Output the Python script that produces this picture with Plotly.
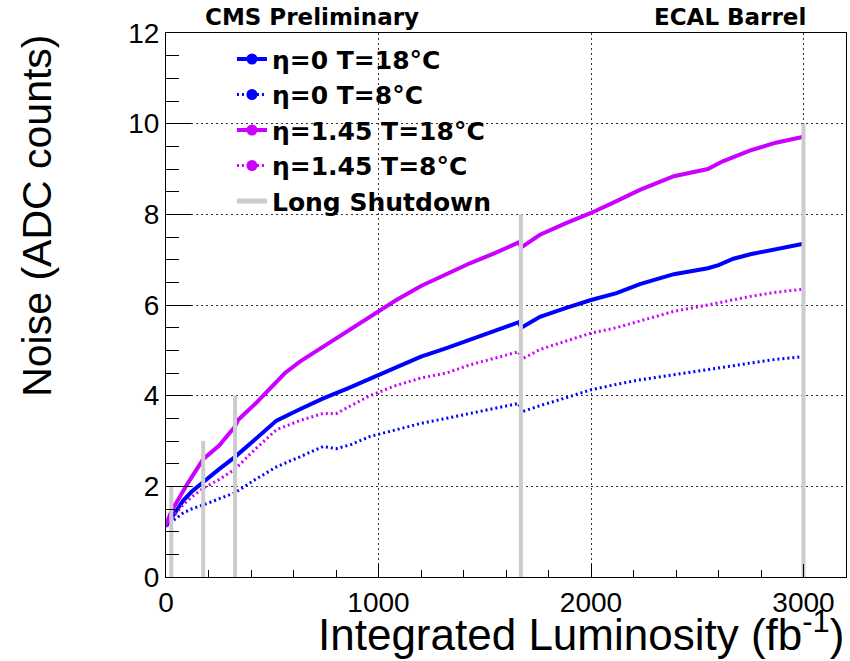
import plotly.graph_objects as go

# ---- data -------------------------------------------------------------
# eta = 0, T = 18 C
lumi_eta0_18 = [0, 25, 50, 80, 120, 175, 250, 325, 420, 520, 630, 740, 850, 960, 1080,
                1200, 1320, 1430, 1550, 1660, 1672, 1760, 1880, 2000, 2120, 2230, 2390,
                2550, 2600, 2670, 2750, 2870, 3000]
noise_eta0_18 = [1.12, 1.30, 1.47, 1.68, 1.88, 2.10, 2.38, 2.65, 3.05, 3.45, 3.70, 3.94,
                 4.15, 4.38, 4.62, 4.86, 5.05, 5.23, 5.42, 5.62, 5.50, 5.74, 5.93, 6.11,
                 6.26, 6.46, 6.68, 6.81, 6.88, 7.02, 7.12, 7.24, 7.35]

# eta = 0, T = 8 C
lumi_eta0_8 = [0, 25, 50, 80, 120, 175, 250, 325, 420, 520, 630, 740, 800, 870, 960, 1080,
               1200, 1320, 1430, 1550, 1660, 1672, 1760, 1880, 2000, 2120, 2230, 2390,
               2550, 2650, 2750, 2870, 3000]
noise_eta0_8 = [1.12, 1.20, 1.30, 1.41, 1.50, 1.59, 1.72, 1.86, 2.15, 2.43, 2.65, 2.88,
                2.83, 2.92, 3.10, 3.25, 3.39, 3.50, 3.61, 3.72, 3.83, 3.64, 3.78, 3.95,
                4.13, 4.25, 4.35, 4.46, 4.58, 4.65, 4.72, 4.80, 4.86]

# eta = 1.45, T = 18 C
lumi_eta145_18 = [0, 25, 50, 100, 175, 250, 325, 340, 420, 520, 560, 630, 740, 850, 960,
                  1080, 1200, 1320, 1430, 1550, 1660, 1672, 1760, 1880, 2000, 2120, 2230,
                  2390, 2550, 2620, 2750, 2870, 3000]
noise_eta145_18 = [1.15, 1.45, 1.65, 2.05, 2.60, 2.90, 3.32, 3.47, 3.82, 4.30, 4.50, 4.75,
                   5.08, 5.40, 5.75, 6.10, 6.42, 6.68, 6.92, 7.15, 7.38, 7.27, 7.55, 7.80,
                   8.03, 8.29, 8.54, 8.84, 9.00, 9.17, 9.41, 9.58, 9.71]

# eta = 1.45, T = 8 C
lumi_eta145_8 = [0, 25, 50, 80, 120, 175, 250, 325, 420, 520, 630, 740, 800, 870, 960, 1080,
                 1200, 1320, 1430, 1550, 1660, 1672, 1760, 1880, 2000, 2120, 2230, 2390,
                 2550, 2650, 2750, 2870, 3000]
noise_eta145_8 = [1.12, 1.28, 1.42, 1.59, 1.76, 1.96, 2.15, 2.38, 2.82, 3.25, 3.45, 3.61,
                  3.60, 3.78, 4.00, 4.22, 4.39, 4.50, 4.68, 4.83, 4.97, 4.80, 5.02, 5.20,
                  5.38, 5.50, 5.64, 5.86, 6.00, 6.10, 6.19, 6.28, 6.35]

# long shutdown markers: position and drawn height
shutdown_lumi = [25, 175, 325, 1670, 3000]
shutdown_top = [2, 3, 4, 8, 10]

series_labels = ["η=0 T=18°C", "η=0 T=8°C", "η=1.45 T=18°C", "η=1.45 T=8°C"]
shutdown_label = "Long Shutdown"

x_ticks = [0, 1000, 2000, 3000]
y_ticks = [0, 2, 4, 6, 8, 10, 12]

# ---- styling ----------------------------------------------------------
BLUE = "#0000ff"
MAGENTA = "#cc00ff"
GRAY = "#cccccc"
FONT = "Liberation Sans, Arial, sans-serif"
BOLD_FONT = "DejaVu Sans, Liberation Sans, sans-serif"
DOTS = "2px,3px"

series = [
    (lumi_eta0_18, noise_eta0_18, BLUE, "solid", 4),
    (lumi_eta0_8, noise_eta0_8, BLUE, DOTS, 3),
    (lumi_eta145_18, noise_eta145_18, MAGENTA, "solid", 4),
    (lumi_eta145_8, noise_eta145_8, MAGENTA, DOTS, 3),
]

fig = go.Figure()

for (xs, ys, color, dash, w) in series:
    fig.add_trace(go.Scatter(x=xs, y=ys, mode="lines", showlegend=False,
                             line=dict(color=color, dash=dash, width=w)))

# vertical shutdown bars as one broken line
sx, sy = [], []
for xv, top in zip(shutdown_lumi, shutdown_top):
    sx += [xv, xv, None]
    sy += [0, top, None]
fig.add_trace(go.Scatter(x=sx, y=sy, mode="lines", showlegend=False,
                         line=dict(color=GRAY, width=4)))

# legend entries (line with a marker)
for (xs, ys, color, dash, w), label in zip(series, series_labels):
    fig.add_trace(go.Scatter(x=[None], y=[None], mode="lines+markers", name=label,
                             line=dict(color=color, dash=dash, width=w),
                             marker=dict(color=color, size=11)))
fig.add_trace(go.Scatter(x=[None], y=[None], mode="lines", name=shutdown_label,
                         line=dict(color=GRAY, width=5)))

axis_common = dict(
    showline=True, linecolor="black", linewidth=1, mirror=True,
    ticks="inside", tickcolor="black", tickwidth=1,
    showgrid=True, gridcolor="#333333", gridwidth=1, griddash=DOTS,
    zeroline=False,
    tickfont=dict(family=FONT, size=28, color="black"),
)

fig.update_xaxes(range=[0, 3200], tickvals=x_ticks, ticklen=13,
                 minor=dict(dtick=200, tick0=0, ticks="inside", ticklen=7,
                            tickcolor="black", showgrid=False),
                 **axis_common)
fig.update_yaxes(range=[0, 12], tickvals=y_ticks, ticklen=25,
                 minor=dict(dtick=0.5, tick0=0, ticks="inside", ticklen=13,
                            tickcolor="black", showgrid=False),
                 **axis_common)

fig.update_layout(
    width=850, height=661, autosize=False,
    margin=dict(l=166, r=4, t=33, b=84),
    paper_bgcolor="white", plot_bgcolor="white",
    font=dict(family=FONT, color="black"),
    legend=dict(x=0.097, y=0.994, xanchor="left", yanchor="top",
                bgcolor="rgba(0,0,0,0)", borderwidth=0,
                traceorder="normal",
                font=dict(family=BOLD_FONT, size=25, color="black", weight="bold")),
    annotations=[
        dict(text="CMS Preliminary", xref="paper", yref="paper", x=0.0544, y=1.03,
             xanchor="left", yanchor="middle", showarrow=False,
             font=dict(family=BOLD_FONT, size=23, weight="bold")),
        dict(text="ECAL Barrel", xref="paper", yref="paper", x=0.944, y=1.03,
             xanchor="right", yanchor="middle", showarrow=False,
             font=dict(family=BOLD_FONT, size=23, weight="bold")),
        dict(text="Integrated Luminosity (fb<sup>-1</sup>)", xref="paper", yref="paper",
             x=1.0, y=-0.1, xanchor="right", yanchor="middle", showarrow=False,
             font=dict(family=FONT, size=44)),
        dict(text="Noise (ADC counts)", xref="paper", yref="paper", x=-0.19, y=1.0,
             xanchor="center", yanchor="top", textangle=-90, showarrow=False,
             font=dict(family=FONT, size=41)),
    ],
)

fig.write_html("out.html")
